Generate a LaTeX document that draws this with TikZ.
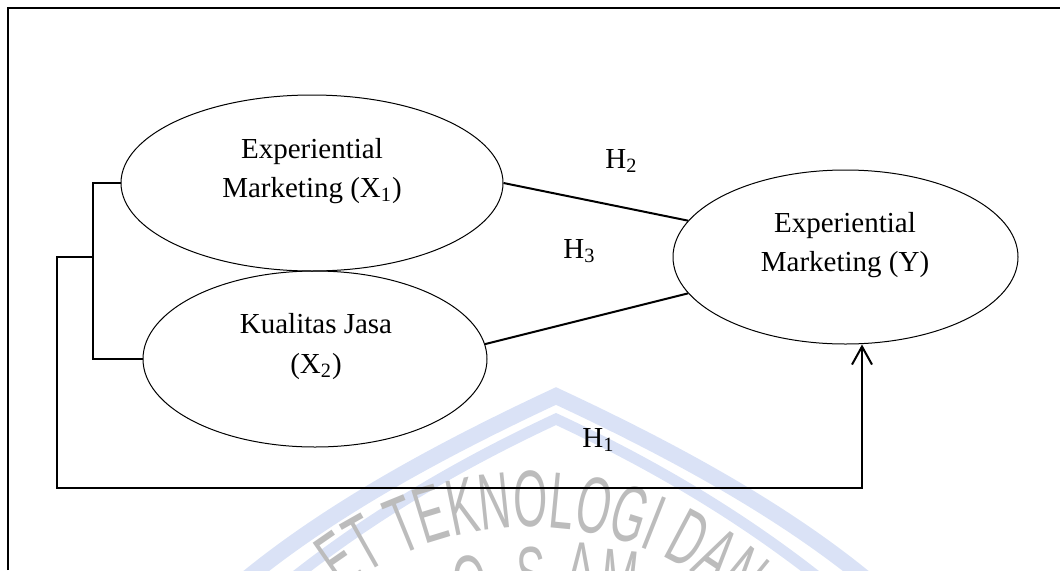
\documentclass[tikz,border=0pt]{standalone}
\usepackage{fontspec}
\setmainfont{Liberation Serif}
\newfontfamily\wmfont[FakeStretch=0.55]{Liberation Sans}
\usetikzlibrary{shapes.geometric,arrows.meta,decorations.text}
\definecolor{wmblue}{RGB}{218,226,246}
\definecolor{wmgray}{RGB}{188,188,188}
\begin{document}
\begin{tikzpicture}[x=0.5pt,y=0.5pt,
  var/.style={draw, ellipse, line width=0.5pt, inner sep=0pt},
  lbl/.style={anchor=base, inner sep=0pt, font=\fontsize{14.5}{17}\selectfont},
  hyp/.style={anchor=base west, inner sep=0pt, font=\fontsize{14.5}{17}\selectfont},
  conn/.style={line width=1pt},
  band/.style={draw=wmblue, line join=miter},
  wmletter/.style={anchor=north, inner sep=0pt, text=wmgray, font=\wmfont\fontsize{40}{44}\selectfont},
]
\useasboundingbox (0,0) rectangle (1060,570);
\clip (0,0) rectangle (1060,570);
% watermark
\draw[band, line width=8pt] (245,-10) .. controls (330,60) and (440,120) .. (556,174) .. controls (672,120) and (782,60) .. (867,-10);
\draw[band, line width=5.5pt] (260,-35) .. controls (345,37) and (440,97) .. (556,151) .. controls (672,97) and (767,37) .. (852,-35);
\path[decorate, decoration={text along path, text align=center, text color=wmgray,
  text={|\wmfont\fontsize{40}{44}\selectfont|ET TEKNOLOGI DAN B}}]
  (279.8,-83.9) arc[start angle=143.8, end angle=23.8, radius=310];
\node[wmletter, rotate=8] (wm1) at (467,15) {O};
\node[wmletter, rotate=3] (wm2) at (530,23) {S};
\node[wmletter, rotate=-2] (wm3) at (582,27) {A};
\node[wmletter, rotate=-6] (wm4) at (623,20) {M};
% frame
\draw[line width=1.2pt] (8,0) -- (8,562) -- (1060,562);
% variables
\node[var, minimum width=191pt, minimum height=88pt] (X1) at (312,387) {};
\node[var, minimum width=172pt, minimum height=88pt] (X2) at (315,211) {};
\node[var, minimum width=172.5pt, minimum height=87pt] (Y) at (845.5,313) {};
\node[lbl] (x1a) at (312,412) {Experiential};
\node[lbl] (x1b) at (312,373) {Marketing (X\textsubscript{1})};
\node[lbl] (x2a) at (316,237) {Kualitas Jasa};
\node[lbl] (x2b) at (316,197) {(X\textsubscript{2})};
\node[lbl] (ya) at (845,338) {Experiential};
\node[lbl] (yb) at (845,299) {Marketing (Y)};
\node[hyp] (h2) at (605,402) {H\textsubscript{2}};
\node[hyp] (h3) at (563,312) {H\textsubscript{3}};
\node[hyp] (h1) at (582,123) {H\textsubscript{1}};
% connectors
\draw[conn] (X1.east) -- (Y.167);
\draw[conn] (X2.5) -- (Y.193);
\coordinate (sp) at (93,0);
\draw[conn] (X1.west) -- (X1.west -| sp) -- (X2.west -| sp) -- (X2.west);
\coordinate (mid) at (93,313);
\coordinate (lo) at (57,82);
\coordinate (ar) at (862,82);
\draw[conn, -{Straight Barb[length=9pt,width=10pt]}] (mid) -- (mid -| lo) -- (lo) -- (ar) -- (ar |- Y.south);
\end{tikzpicture}
\end{document}
